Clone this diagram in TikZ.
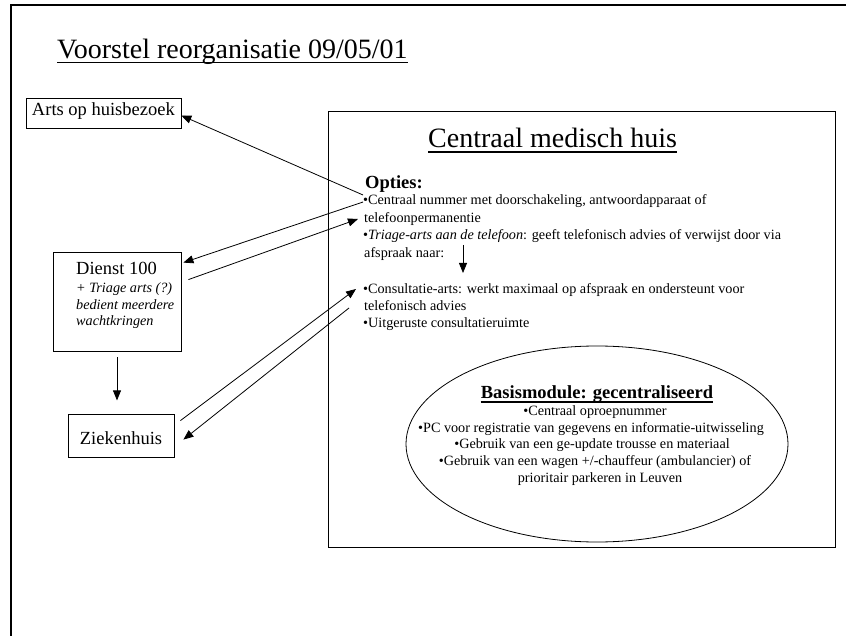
\documentclass[tikz,border=0pt]{standalone}
\usepackage{fontspec}
\setmainfont{Liberation Serif}
\usetikzlibrary{arrows.meta,shapes.geometric}
\begin{document}
\begin{tikzpicture}[x=1pt,y=-1pt,
  box/.style={draw, line width=0.8pt, inner sep=0pt},
  arr/.style={line width=0.8pt, -{Triangle[length=10pt,width=8pt]}},
  big/.style={font=\fontsize{28}{32}\selectfont, inner sep=0pt, anchor=base west},
  med/.style={font=\fontsize{18.5}{21}\selectfont, inner sep=0pt},
  medb/.style={font=\fontsize{18.5}{21}\selectfont\bfseries, inner sep=0pt},
  sm/.style={font=\fontsize{14.2}{17}\selectfont, inner sep=0pt, anchor=base west},
  smc/.style={font=\fontsize{14.2}{17}\selectfont, inner sep=0pt, anchor=base},
  smi/.style={font=\fontsize{14.2}{17}\selectfont\itshape, inner sep=0pt, anchor=base west},
  ul/.style={line width=1.5pt}]
\useasboundingbox (0,0) rectangle (846,636);
\draw[line width=2pt] (11,637) -- (11,5) -- (847,5);

% title
\node[big] (title) at (57,59) {Voorstel reorganisatie 09/05/01};
\draw[ul] ([yshift=-3.5pt]title.base west) -- ([yshift=-3.5pt]title.base east);

% left boxes
\node[box, med, minimum width=155pt, text height=18pt, text depth=12pt, anchor=base] (arts) at (103.4,116) {Arts op huisbezoek};
\node[box, minimum width=128pt, minimum height=99pt] (dienst) at (117,301.5) {};
\node[med, anchor=base west] (dt) at (76,275) {Dienst 100};
\node[smi] (d1) at (76,293) {+ Triage arts (?)};
\node[smi] (d2) at (76,310) {bedient meerdere};
\node[smi] (d3) at (76,326) {wachtkringen};
\node[box, med, minimum width=106pt, text height=30pt, text depth=13pt, anchor=base] (zk) at (121,444) {Ziekenhuis};

% central box
\node[box, minimum width=507pt, minimum height=436pt] (cmh) at (581.5,329) {};
\node[big] (cmht) at (428,148) {Centraal medisch huis};
\draw[ul] ([yshift=-4pt]cmht.base west) -- ([yshift=-4pt]cmht.base east);
\node[medb, anchor=base west] (opt) at (365,189) {Opties:};
\node[sm] (l1) at (363,205) {•Centraal nummer met doorschakeling, antwoordapparaat of};
\node[sm] (l2) at (364,222.5) {telefoonpermanentie};
\node[sm] (l3) at (363,240) {•\textit{Triage-arts aan de telefoon}: geeft telefonisch advies of verwijst door via};
\node[sm] (l4) at (364,257.5) {afspraak naar:};
\node[sm] (l5) at (363,294) {•Consultatie-arts: werkt maximaal op afspraak en ondersteunt voor};
\node[sm] (l6) at (364,310.5) {telefonisch advies};
\node[sm] (l7) at (363,327) {•Uitgeruste consultatieruimte};

% ellipse
\node[draw, ellipse, line width=0.8pt, minimum width=382pt, minimum height=196pt, inner sep=0pt] (basis) at (597,444) {};
\node[medb, anchor=base] (bt) at (597,398) {Basismodule: gecentraliseerd};
\draw[line width=1.4pt] ([yshift=-3.8pt]bt.base west) -- ([yshift=-3.8pt]bt.base east);
\node[smc] (b1) at (595,415) {•Centraal oproepnummer};
\node[smc] (b2) at (591,432) {•PC voor registratie van gegevens en informatie-uitwisseling};
\node[smc] (b3) at (592,448.5) {•Gebruik van een ge-update trousse en materiaal};
\node[smc] (b4) at (595,465) {•Gebruik van een wagen +/-chauffeur (ambulancier) of};
\node[smc] (b5) at (600,482) {prioritair parkeren in Leuven};

% connector end points at the text
\coordinate (pA) at (363,195);
\coordinate (pB) at (363,202);
\coordinate (pC) at (358,219);
\coordinate (pD) at (356,289);
\coordinate (pE) at (349,308);
\coordinate (pV) at (463,245);

% connectors
\draw[arr] (pA) -- ([yshift=-2.5pt]arts.east);
\draw[arr] (pB) -- ([shift={(2pt,-11pt)}]dienst.north east);
\draw[arr] ([shift={(7pt,-28pt)}]dienst.north east) -- (pC);
\draw[arr] ([shift={(6pt,-7pt)}]zk.north east) -- (pD);
\draw[arr] (pE) -- ([shift={(9pt,-26pt)}]zk.north east);
\draw[arr] ([yshift=-6pt]dienst.south) -- ++(0,43);
\draw[arr] (pV) -- ++(0,28);
\end{tikzpicture}
\end{document}
